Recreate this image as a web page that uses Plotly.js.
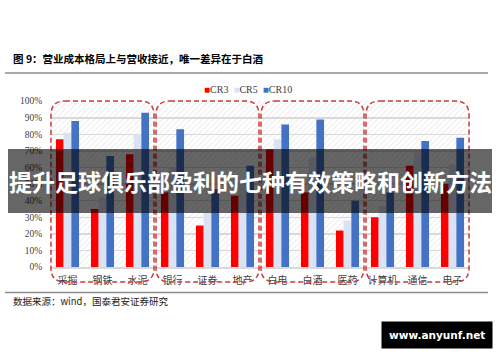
<!DOCTYPE html>
<html><head><meta charset="utf-8">
<script src="https://cdn.plot.ly/plotly-3.0.1.min.js"></script>
<style>html,body{margin:0;padding:0;background:#fff;}#chart{width:500px;height:362px;}</style>
</head><body><div id="chart"></div>
<script>
// ---- data ----
const categories = ['采掘','钢铁','水泥','银行','证券','地产','白电','白酒','医药','计算机','通信','电子'];
const cr3  = [0.77,0.35,0.68,0.45,0.25,0.43,0.71,0.45,0.22,0.30,0.61,0.50];
const cr5  = [0.81,0.42,0.80,0.60,0.33,0.52,0.77,0.66,0.28,0.37,0.69,0.62];
const cr10 = [0.88,0.67,0.93,0.83,0.47,0.61,0.86,0.89,0.40,0.45,0.76,0.78];
const seriesNames = ['CR3','CR5','CR10'];
const yTickVals = [0,0.1,0.2,0.3,0.4,0.5,0.6,0.7,0.8,0.9,1.0];
const groupSize = 3;
const chartTitle = '图 9：营业成本格局上与营收接近，唯一差异在于白酒';
const sourceText = '数据来源：wind，国泰君安证券研究';
const bannerText = '提升足球俱乐部盈利的七种有效策略和创新方法';
const watermarkText = 'www.anyunf.net';

// ---- styles ----
const colors = ['#ff0000','#dae3f3','#4472c4'];
const W = 500, H = 362;
const M = {l:50, r:30, t:101, b:95};
const PW = W - M.l - M.r, PH = H - M.t - M.b;
const px2x = p => (p - M.l) / PW;
const py2y = p => (H - M.b - p) / PH;
const serif = 'Liberation Serif, Noto Sans CJK SC, serif';
const cjk = 'Noto Sans CJK SC, sans-serif';

const values = [cr3, cr5, cr10];
const traces = seriesNames.map((n,i) => ({
  type:'bar', name:n, x:categories, y:values[i],
  marker:{color:colors[i], line:{width:0}}, showlegend:false, hoverinfo:'skip'
}));

// hatch background
const hatchSvg = "<svg xmlns='http://www.w3.org/2000/svg' width='"+PW+"' height='"+PH+"'><defs><pattern id='p' width='4' height='4' patternUnits='userSpaceOnUse' patternTransform='rotate(45)'><line x1='0' y1='0' x2='0' y2='4' stroke='#e3e3e3' stroke-width='1.3'/></pattern></defs><rect width='100%' height='100%' fill='url(#p)'/></svg>";

// group rounded dashed rects
function roundRect(x0,x1,y0,y1,rx,ry){
  return 'M'+(x0+rx)+','+y1+' L'+(x1-rx)+','+y1+' Q'+x1+','+y1+' '+x1+','+(y1-ry)+
    ' L'+x1+','+(y0+ry)+' Q'+x1+','+y0+' '+(x1-rx)+','+y0+' L'+(x0+rx)+','+y0+
    ' Q'+x0+','+y0+' '+x0+','+(y0+ry)+' L'+x0+','+(y1-ry)+' Q'+x0+','+y1+' '+(x0+rx)+','+y1+' Z';
}
const shapes = [];
const nGroups = Math.ceil(categories.length / groupSize);
const inset = 1/PW, rx = 14/PW, ry = 14/PH;
for (let g=0; g<nGroups; g++){
  const x0 = g*groupSize/categories.length + inset;
  const x1 = (g+1)*groupSize/categories.length - inset;
  shapes.push({type:'path', xref:'paper', yref:'paper', path:roundRect(x0,x1,py2y(282),1.0,rx,ry),
    line:{color:'#cc3b3b', width:1.5, dash:'5px,3px'}});
}
// separator lines
shapes.push({type:'line', xref:'paper', yref:'paper', x0:px2x(5), x1:px2x(488), y0:py2y(73), y1:py2y(73), line:{color:'#8c8c8c', width:1.5}});
shapes.push({type:'line', xref:'paper', yref:'paper', x0:px2x(5), x1:px2x(488), y0:py2y(292.5), y1:py2y(292.5), line:{color:'#8c8c8c', width:1.5}});
// banner
shapes.push({type:'rect', xref:'paper', yref:'paper', x0:px2x(8), x1:px2x(492), y0:py2y(213), y1:py2y(149), fillcolor:'rgba(0,0,0,0.6)', line:{width:0}});

const legendText = seriesNames.map((n,i)=>'<span style="color:'+colors[i]+'">■</span>'+n).join('  ');

const annotations = [
  {xref:'paper', yref:'paper', x:px2x(11), y:py2y(58), xanchor:'left', yanchor:'middle', showarrow:false,
   text:'<b>'+chartTitle+'</b>', font:{family:cjk, size:10.5, color:'#000'}},
  {xref:'paper', yref:'paper', x:px2x(248), y:py2y(89), xanchor:'center', yanchor:'middle', showarrow:false,
   text:legendText, font:{family:serif, size:10, color:'#404040'}},
  {xref:'paper', yref:'paper', x:px2x(11), y:py2y(301), xanchor:'left', yanchor:'middle', showarrow:false,
   text:sourceText, font:{family:cjk, size:9.5, color:'#222'}},
  {xref:'paper', yref:'paper', x:px2x(250), y:py2y(181), xanchor:'center', yanchor:'middle', showarrow:false,
   text:'<b>'+bannerText+'</b>', font:{family:cjk, size:23, color:'#fff'}},
  {xref:'paper', yref:'paper', x:px2x(493), y:py2y(335), xanchor:'right', yanchor:'middle', showarrow:false,
   text:'<b>'+watermarkText+'</b>', font:{family:'DejaVu Sans, sans-serif', size:10.5, color:'#fff'},
   bgcolor:'#000', borderpad:7}
];

const layout = {
  width:W, height:H, margin:M, paper_bgcolor:'#fff', plot_bgcolor:'rgba(0,0,0,0)',
  barmode:'group', bargap:0.34, bargroupgap:0, showlegend:false,
  xaxis:{type:'category', tickfont:{family:serif, size:10, color:'#404040'}, showgrid:false,
    showline:true, linecolor:'#d9d9d9', linewidth:1.5, ticks:'outside', ticklen:3, tickcolor:'rgba(0,0,0,0)', fixedrange:true},
  yaxis:{range:[0,1.001], tickvals:yTickVals, tickformat:'.0%', tickfont:{family:serif, size:9.5, color:'#404040'},
    showgrid:true, gridcolor:'#d9d9d9', gridwidth:1.5, zeroline:false, showline:false,
    ticks:'outside', ticklen:5, tickcolor:'rgba(0,0,0,0)', fixedrange:true},
  images:[{source:'data:image/svg+xml;charset=utf-8,'+encodeURIComponent(hatchSvg), xref:'paper', yref:'paper',
    x:0, y:1, sizex:1, sizey:1, sizing:'stretch', xanchor:'left', yanchor:'top', layer:'below'}],
  shapes:shapes, annotations:annotations
};
Plotly.newPlot('chart', traces, layout, {displayModeBar:false, staticPlot:true});
</script></body></html>
